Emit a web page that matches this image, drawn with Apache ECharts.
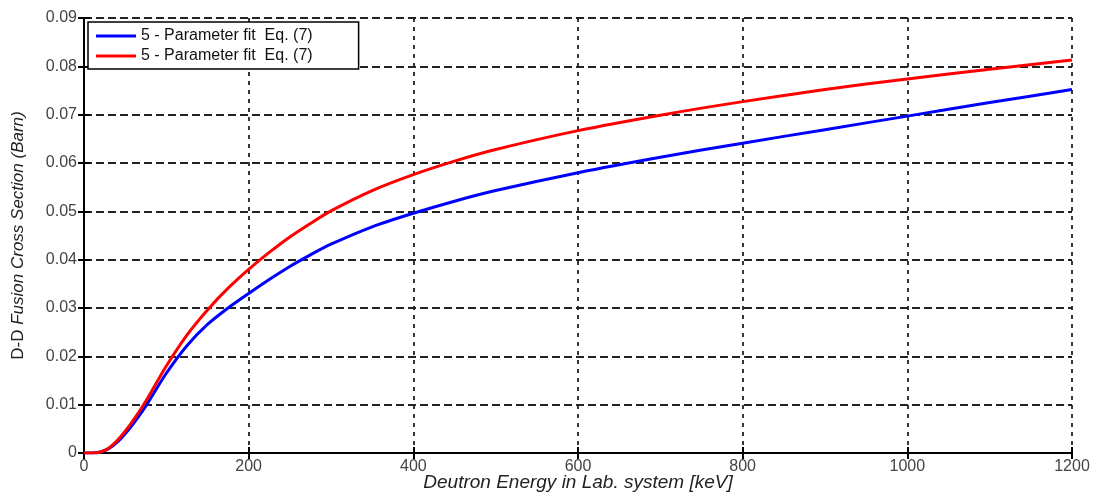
<!DOCTYPE html>
<html><head><meta charset="utf-8">
<script src="https://cdn.jsdelivr.net/npm/echarts@6/dist/echarts.min.js"></script>
<style>html,body{margin:0;padding:0;background:#fff}#c{width:1103px;height:492px}</style>
</head><body><div id="c"></div>
<script>
const energy = [0,10,20,30,40,50,60,75,100,125,150,175,200,225,250,275,300,350,400,450,500,600,700,800,900,1000,1100,1200];
const blueFit = [0,0,0.0002,0.0009,0.0022,0.004,0.0061,0.0097,0.0165,0.0222,0.0266,0.0300,0.0330,0.0359,0.0386,0.0410,0.0432,0.0468,0.0496,0.0521,0.0543,0.0580,0.0612,0.0641,0.0669,0.0697,0.0725,0.0752];
const redFit = [0,0,0.0002,0.001,0.0025,0.0045,0.0068,0.0107,0.0180,0.0244,0.0296,0.0341,0.0380,0.0415,0.0447,0.0475,0.0501,0.0543,0.0576,0.0604,0.0628,0.0667,0.0699,0.0727,0.0752,0.0774,0.0794,0.0813];
const xTicks = [0,200,400,600,800,1000,1200];
const yTicks = ['0','0.01','0.02','0.03','0.04','0.05','0.06','0.07','0.08','0.09'];
const seriesNames = ['5 - Parameter fit  Eq. (7)','5 - Parameter fit  Eq. (7) '];

const font = 'Liberation Sans, Arial, sans-serif';
const chart = echarts.init(document.getElementById('c'), null, {renderer:'canvas'});
chart.setOption({
  animation:false,
  backgroundColor:'#fff',
  grid: {left:84, right:31, top:18, bottom:39, containLabel:false, outerBoundsMode:'none'},
  legend:{
    left:88, top:22, orient:'vertical', itemGap:4, itemWidth:40, itemHeight:3,
    padding:[6,46,5,8], borderColor:'#000', borderWidth:1.5, backgroundColor:'#fff',
    textStyle:{fontFamily:font, fontSize:16, color:'#111'},
    data:[{name:seriesNames[0], icon:'rect'},{name:seriesNames[1], icon:'rect'}],
    formatter: n => n.trim()
  },
  xAxis:[{
    type:'value', min:0, max:1200, interval:200,
    axisLine:{lineStyle:{color:'#000', width:2}},
    axisTick:{inside:true, length:6, lineStyle:{color:'#000', width:2}},
    axisLabel:{fontFamily:font, fontSize:16, color:'#444', margin:6,
      formatter: v => xTicks.includes(v) ? String(v) : ''},
    splitLine:{show:true, lineStyle:{color:'#222', width:1.8, type:[4,5]}},
    name:'Deutron Energy in Lab. system [keV]', nameLocation:'middle', nameGap:20, nameMoveOverlap:false,
    nameTextStyle:{fontFamily:font, fontSize:19, fontStyle:'italic', color:'#222'}
  },{
    type:'value', min:0, max:1200, interval:200, position:'top',
    axisLine:{show:true, lineStyle:{color:'#000', width:2}},
    axisTick:{show:true, inside:true, length:6, lineStyle:{color:'#000', width:2}},
    axisLabel:{show:false}, splitLine:{show:false}
  }],
  yAxis:[{
    type:'value', min:0, max:0.09, interval:0.01,
    axisLine:{show:true, lineStyle:{color:'#000', width:2}},
    axisTick:{show:true, inside:true, length:6, lineStyle:{color:'#000', width:2}},
    axisLabel:{fontFamily:font, fontSize:16, color:'#444', margin:7,
      formatter: v => yTicks[Math.round(v*100)]},
    splitLine:{show:true, lineStyle:{color:'#222', width:1.8, type:[8,4]}},
    name:'{a|D-D }{b|Fusion Cross Section (Barn)}', nameLocation:'middle', nameGap:57,
    nameTextStyle:{rich:{a:{fontFamily:font, fontSize:17, color:'#222'}, b:{fontFamily:font, fontSize:17, fontStyle:'italic', color:'#222'}}}
  },{
    type:'value', min:0, max:0.09, interval:0.01, position:'right',
    axisLine:{show:true, lineStyle:{color:'#000', width:2}},
    axisTick:{show:true, inside:true, length:6, lineStyle:{color:'#000', width:2}},
    axisLabel:{show:false}, splitLine:{show:false}
  }],
  series:[{
    name:seriesNames[0], type:'line', smooth:0.3, showSymbol:false,
    color:'#0000ff', lineStyle:{width:3, color:'#0000ff'},
    data: energy.map((e,i)=>[e, blueFit[i]])
  },{
    name:seriesNames[1], type:'line', smooth:0.3, showSymbol:false,
    color:'#ff0000', lineStyle:{width:3, color:'#ff0000'},
    data: energy.map((e,i)=>[e, redFit[i]])
  }]
});
</script></body></html>
